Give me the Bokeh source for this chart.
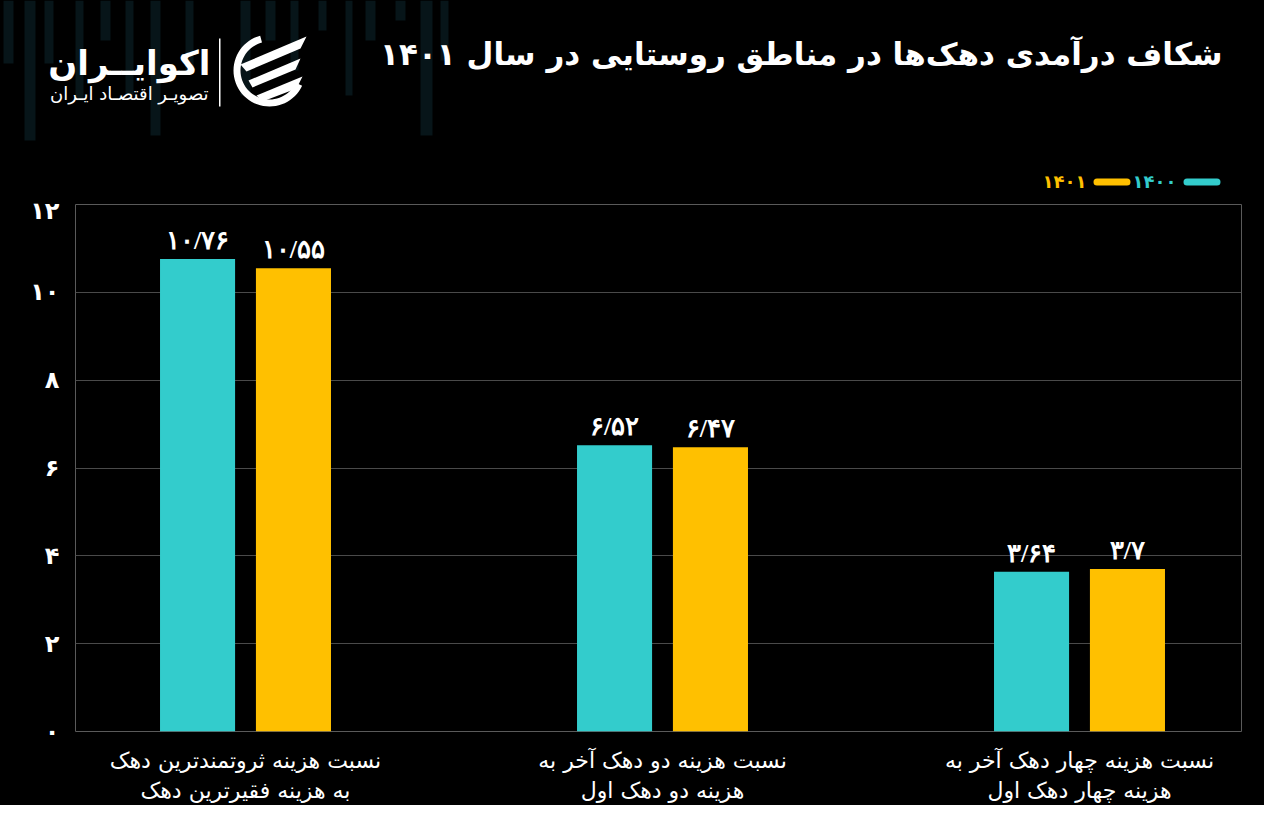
import math
from bokeh.plotting import figure
from bokeh.layouts import column
from bokeh.models import (Range1d, FixedTicker, ColumnDataSource, LabelSet, Label,
                          BoxAnnotation)
from bokeh.transform import dodge
from bokeh.embed import file_html
from bokeh.resources import INLINE

# ---------------- data ----------------
title_text = "شکاف درآمدی دهک‌ها در مناطق روستایی در سال ۱۴۰۱"
logo_text = "اکوایــران"
logo_sub = "تصویـر اقتصـاد ایـران"
categories = [
    "نسبت هزینه ثروتمندترین دهک\nبه هزینه فقیرترین دهک",
    "نسبت هزینه دو دهک آخر به\nهزینه دو دهک اول",
    "نسبت هزینه چهار دهک آخر به\nهزینه چهار دهک اول",
]
series_names = ["۱۴۰۰", "۱۴۰۱"]
values_1400 = [10.76, 6.52, 3.64]
values_1401 = [10.55, 6.47, 3.70]
y_ticks = [0, 2, 4, 6, 8, 10, 12]
y_tick_labels = ["۰", "۲", "۴", "۶", "۸", "۱۰", "۱۲"]

TEAL = "#33CCCC"
GOLD = "#FFC000"
BG = "#000000"
DECO = "#071519"
FONT = "DejaVu Sans"
W = 1264
HEAD_H = 196
MAIN_H = 805 - HEAD_H

FA_DIGITS = str.maketrans("0123456789.", "۰۱۲۳۴۵۶۷۸۹/")


def fa(v):
    return f"{v:g}".translate(FA_DIGITS)


# ---------------- header (title, logo, legend) ----------------
h = figure(width=W, height=HEAD_H, x_range=Range1d(0, W), y_range=Range1d(0, HEAD_H),
           x_axis_type=None, y_axis_type=None, output_backend="svg",
           toolbar_location=None, background_fill_color=BG, border_fill_color=BG,
           min_border=0)
h.outline_line_color = None
h.grid.visible = False


def hy(py):  # page y -> header data y
    return HEAD_H - py


# faint decorative background stripes (top-left texture)
deco = [(3, 13, 63), (24, 35, 140), (44, 53, 63), (75, 83, 100), (100, 110, 40),
        (125, 133, 95), (150, 160, 135), (185, 193, 70), (240, 250, 95), (265, 275, 40),
        (290, 298, 70), (318, 326, 30), (345, 352, 95), (365, 375, 40), (395, 405, 20),
        (420, 432, 135), (440, 448, 60)]
h.quad(left=[a for a, b, c in deco], right=[b for a, b, c in deco],
       top=[hy(0)] * len(deco), bottom=[hy(c) for a, b, c in deco],
       fill_color=DECO, line_color=None)

h.add_layout(Label(x=1222, y=hy(53), text=title_text, text_align="right",
                   text_baseline="middle", text_color="white", text_font=FONT,
                   text_font_style="bold", text_font_size="31px"))

# legend (reads right to left)
for name, colr, right in ((series_names[0], TEAL, 1220), (series_names[1], GOLD, 1130)):
    h.add_layout(BoxAnnotation(left=right - 37, right=right, bottom=hy(185), top=hy(178),
                               fill_color=colr, fill_alpha=1, line_color=None,
                               border_radius=4))
    h.add_layout(Label(x=right - 44, y=hy(181), text=name, text_align="right",
                       text_baseline="middle", text_color=colr, text_font=FONT,
                       text_font_style="bold", text_font_size="18px"))

# logo
h.add_layout(Label(x=210, y=hy(62), text=logo_text, text_align="right",
                   text_baseline="middle", text_color="white", text_font=FONT,
                   text_font_style="bold", text_font_size="34px"))
h.add_layout(Label(x=208, y=hy(93), text=logo_sub, text_align="right",
                   text_baseline="middle", text_color="white", text_font=FONT,
                   text_font_size="18px"))
h.add_layout(BoxAnnotation(left=218.5, right=220, bottom=hy(106), top=hy(38),
                           fill_color="white", fill_alpha=1, line_color=None))
cx, cy, r_out, r_in = 269, 70, 36, 29
angs = [math.radians(a) for a in range(105, 336, 5)]
ring_x = [cx + r_out * math.cos(a) for a in angs] + [cx + r_in * math.cos(a) for a in reversed(angs)]
ring_y = [hy(cy - r_out * math.sin(a)) for a in angs] + [hy(cy - r_in * math.sin(a)) for a in reversed(angs)]
stripes = [
    [(240, 64), (306, 36), (300, 48), (246, 71)],
    [(248, 80), (300, 58), (295, 69), (252, 87)],
    [(256, 95), (302, 76), (296, 88), (262, 101)],
]
h.patches(xs=[ring_x] + [[a for a, b in s] for s in stripes],
          ys=[ring_y] + [[hy(b) for a, b in s] for s in stripes],
          fill_color="white", line_color=None)

# ---------------- main chart ----------------
x_pos = [i + 0.5 for i in range(len(categories))]
source = ColumnDataSource(dict(
    x=x_pos,
    v1400=values_1400,
    v1401=values_1401,
    t1400=[fa(v) for v in values_1400],
    t1401=[fa(v) for v in values_1401],
))

p = figure(width=W, height=MAIN_H,
           x_range=Range1d(0.0923, 2.8885), y_range=Range1d(0, 12),
           output_backend="svg", toolbar_location=None,
           background_fill_color=BG, border_fill_color=BG,
           min_border_left=75, min_border_right=W - 1241,
           min_border_top=204 - HEAD_H, min_border_bottom=805 - 731)

off = 0.115
bw = 0.18
p.vbar(x=dodge("x", -off, range=p.x_range), top="v1400", width=bw,
       fill_color=TEAL, line_color=None, source=source)
p.vbar(x=dodge("x", off, range=p.x_range), top="v1401", width=bw,
       fill_color=GOLD, line_color=None, source=source)

for col, sgn in (("1400", -1), ("1401", 1)):
    p.add_layout(LabelSet(x=dodge("x", sgn * off, range=p.x_range), y="v" + col,
                          text="t" + col, source=source,
                          text_align="center", text_baseline="alphabetic",
                          y_offset=10, text_color="white",
                          text_font=FONT, text_font_style="bold",
                          text_font_size="26px"))

p.yaxis.ticker = FixedTicker(ticks=y_ticks)
p.yaxis.major_label_overrides = dict(zip(y_ticks, y_tick_labels))
p.yaxis.major_label_text_color = "white"
p.yaxis.major_label_text_font = FONT
p.yaxis.major_label_text_font_style = "bold"
p.yaxis.major_label_text_font_size = "24px"
p.yaxis.major_label_standoff = 10
p.yaxis.major_tick_line_color = None
p.yaxis.minor_tick_line_color = None
p.yaxis.axis_line_color = None

p.xaxis.ticker = FixedTicker(ticks=x_pos)
p.xaxis.major_label_overrides = dict(zip(x_pos, categories))
p.xaxis.major_label_text_color = "white"
p.xaxis.major_label_text_font = FONT
p.xaxis.major_label_text_font_size = "22px"
p.xaxis.major_label_standoff = 10
p.xaxis.major_tick_line_color = None
p.xaxis.minor_tick_line_color = None
p.xaxis.axis_line_color = None

p.xgrid.visible = False
p.ygrid.grid_line_color = "#4a4a4a"
p.ygrid.grid_line_width = 1
p.outline_line_color = "#5a5a5a"
p.outline_line_width = 1

for fig in (h, p):
    if "frame_align" in fig.properties():
        fig.frame_align = False

layout = column(h, p, spacing=0)
layout.styles = {"background-color": BG}
open("out.html", "w").write(file_html(layout, INLINE))
